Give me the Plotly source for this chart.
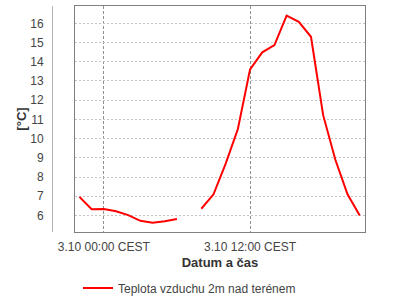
import plotly.graph_objects as go

times = [
    "2023-10-02 22:00", "2023-10-02 23:00", "2023-10-03 00:00", "2023-10-03 01:00",
    "2023-10-03 02:00", "2023-10-03 03:00", "2023-10-03 04:00", "2023-10-03 05:00",
    "2023-10-03 06:00", "2023-10-03 07:00", "2023-10-03 08:00", "2023-10-03 09:00",
    "2023-10-03 10:00", "2023-10-03 11:00", "2023-10-03 12:00", "2023-10-03 13:00",
    "2023-10-03 14:00", "2023-10-03 15:00", "2023-10-03 16:00", "2023-10-03 17:00",
    "2023-10-03 18:00", "2023-10-03 19:00", "2023-10-03 20:00", "2023-10-03 21:00",
]
temps = [6.97, 6.33, 6.34, 6.22, 6.02, 5.72, 5.62, 5.70, 5.82, None, 6.35, 7.10,
         8.70, 10.50, 13.60, 14.49, 14.87, 16.40, 16.08, 15.30, 11.22, 8.90, 7.10, 6.00]

x_tick_vals = ["2023-10-03 00:00", "2023-10-03 12:00"]
x_tick_text = ["3.10 00:00 CEST", "3.10 12:00 CEST"]
x_range = ["2023-10-02 21:38", "2023-10-03 21:26"]
y_range = [5.14, 16.9]

series_name = "Teplota vzduchu 2m nad terénem"
x_title = "Datum a čas"
y_title = "[°C]"

FONT = "Liberation Sans, Arial, sans-serif"

fig = go.Figure()
fig.add_trace(go.Scatter(
    x=times, y=temps, mode="lines", name=series_name,
    line=dict(color="#ff0000", width=2), connectgaps=False,
))

fig.update_layout(
    width=400, height=300,
    margin=dict(l=75, r=35, t=6, b=68),
    paper_bgcolor="white", plot_bgcolor="white",
    font=dict(family=FONT, size=12, color="#444444"),
    showlegend=True,
    legend=dict(orientation="h", xref="container", yref="container",
                x=0.195, xanchor="left", y=0.04, yanchor="middle",
                font=dict(size=12, color="#444444"), itemwidth=30,
                bgcolor="rgba(0,0,0,0)"),
    xaxis=dict(
        type="date", range=x_range, automargin=False,
        tickvals=x_tick_vals, ticktext=x_tick_text,
        showgrid=True, gridcolor="#909090", griddash="3px,2px", gridwidth=1,
        showline=True, linecolor="#808080", linewidth=1, mirror=True,
        ticks="outside", ticklen=4, tickcolor="rgba(0,0,0,0)",
        zeroline=False,
        tickfont=dict(size=12, color="#444444"),
        title=dict(text=x_title, font=dict(size=13, color="#333333", family=FONT, weight="bold"),
                   standoff=4),
    ),
    yaxis=dict(
        range=y_range, tick0=6, dtick=1, automargin=False,
        showgrid=True, gridcolor="#c4c4c4", griddash="2px,2px", gridwidth=1,
        showline=True, linecolor="#808080", linewidth=1, mirror=True,
        ticks="outside", ticklen=28, tickcolor="rgba(0,0,0,0)",
        zeroline=False,
        tickfont=dict(size=12, color="#444444"),
        title=dict(text=y_title, font=dict(size=13, color="#333333", family=FONT, weight="bold"),
                   standoff=0),
    ),
    shapes=[dict(type="line", xref="paper", yref="paper",
                 x0=-22.5 / 290, x1=-22.5 / 290, y0=0, y1=1,
                 line=dict(color="#b4b4b4", width=1))],
)

fig.write_html("out.html")
